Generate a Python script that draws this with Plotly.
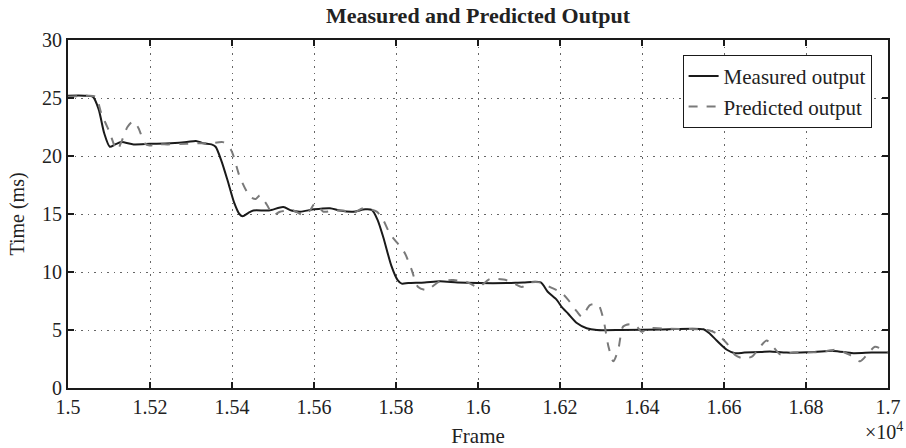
import plotly.graph_objects as go

# ---- data (frames, time in ms) ----
measured_frame = [15000, 15040, 15061, 15075, 15088, 15102, 15115, 15130, 15160, 15200,
                  15250, 15290, 15312, 15330, 15350, 15360, 15375, 15390, 15405, 15418,
                  15426, 15440, 15452, 15490, 15525, 15545, 15566, 15600, 15639, 15663,
                  15695, 15725, 15741, 15755, 15769, 15789, 15804, 15814, 15830, 15870,
                  15907, 15950, 16000, 16070, 16110, 16153, 16170, 16192, 16204, 16220,
                  16241, 16265, 16290, 16350, 16450, 16550, 16565, 16582, 16607, 16627,
                  16650, 16690, 16712, 16753, 16820, 16867, 16915, 16960, 17000]
measured_ms = [25.2, 25.2, 25.1, 24.0, 22.0, 20.8, 21.0, 21.2, 21.0, 21.05,
               21.1, 21.2, 21.3, 21.1, 21.0, 20.8, 19.5, 17.8, 16.0, 15.0,
               14.8, 15.1, 15.3, 15.3, 15.6, 15.3, 15.2, 15.4, 15.5, 15.3,
               15.2, 15.4, 15.35, 14.5, 13.0, 10.5, 9.3, 9.0, 9.05, 9.1,
               9.2, 9.1, 9.05, 9.05, 9.1, 9.1, 8.3, 7.6, 7.0, 6.4,
               5.6, 5.15, 5.0, 5.0, 5.05, 5.06, 4.7, 4.1, 3.3, 3.0,
               3.05, 3.1, 3.15, 3.05, 3.1, 3.2, 3.0, 3.05, 3.05]

predicted_frame = [15000, 15050, 15068, 15081, 15092, 15102, 15112, 15120, 15130, 15145,
                   15159, 15172, 15187, 15199, 15220, 15244, 15290, 15325, 15350, 15378,
                   15398, 15419, 15444, 15458, 15468, 15485, 15501, 15517, 15550, 15574,
                   15590, 15602, 15623, 15650, 15671, 15696, 15720, 15753, 15770, 15785,
                   15810, 15822, 15838, 15854, 15875, 15907, 15940, 15972, 16001, 16029,
                   16062, 16078, 16107, 16127, 16153, 16176, 16204, 16220, 16241, 16253,
                   16273, 16293, 16306, 16318, 16330, 16342, 16354, 16371, 16387, 16399,
                   16420, 16468, 16550, 16565, 16582, 16607, 16627, 16647, 16668, 16688,
                   16704, 16720, 16737, 16769, 16834, 16875, 16907, 16932, 16952, 16968,
                   16989, 17000]
predicted_ms = [25.1, 25.2, 25.1, 23.7, 22.8, 22.0, 21.0, 20.5, 21.2, 22.5,
                23.0, 22.4, 21.1, 20.9, 21.0, 21.0, 21.05, 21.1, 21.1, 21.2,
                20.5, 18.2, 16.5, 16.3, 16.6, 15.8, 14.9, 15.2, 15.3, 14.9,
                15.3, 15.9, 15.2, 15.3, 15.3, 15.1, 15.5, 15.2, 14.4, 13.3,
                12.2, 11.6, 10.2, 8.7, 8.45, 9.2, 9.3, 9.15, 8.7, 9.4,
                9.35, 9.2, 8.7, 9.1, 9.1, 8.7, 8.2, 7.6, 6.6, 6.15,
                7.15, 7.2, 5.9, 3.6, 2.3, 3.3, 5.3, 5.5, 5.3, 4.85,
                5.15, 5.1, 5.05, 4.95, 4.7, 3.85, 2.85, 2.55, 2.7, 3.55,
                4.1, 3.55, 2.9, 3.05, 3.1, 3.3, 2.85, 2.3, 3.0, 3.55,
                3.3, 3.1]

x_ticks = [1.5, 1.52, 1.54, 1.56, 1.58, 1.6, 1.62, 1.64, 1.66, 1.68, 1.7]
x_tick_labels = ["1.5", "1.52", "1.54", "1.56", "1.58", "1.6", "1.62", "1.64", "1.66", "1.68", "1.7"]
y_ticks = [0, 5, 10, 15, 20, 25, 30]

SCALE = 1e4
FONT = "Liberation Serif, Times New Roman, serif"

fig = go.Figure()
fig.add_trace(go.Scatter(
    x=[f / SCALE for f in measured_frame], y=measured_ms, mode="lines",
    name="Measured output", line=dict(color="#1a1a1a", width=2, shape="spline", smoothing=0.7)))
fig.add_trace(go.Scatter(
    x=[f / SCALE for f in predicted_frame], y=predicted_ms, mode="lines",
    name="Predicted output", line=dict(color="#7a7a7a", width=2, dash="dash", shape="spline", smoothing=0.7)))

axis_common = dict(
    showline=True, linecolor="#1a1a1a", linewidth=2, mirror="allticks",
    ticks="inside", ticklen=6, tickwidth=1.5, tickcolor="#1a1a1a",
    showgrid=True, gridcolor="#666666", gridwidth=1, griddash="1.5px,5px",
    zeroline=False, automargin=False,
    tickfont=dict(family=FONT, size=20, color="#222222"),
)

fig.update_layout(
    width=906, height=448,
    margin=dict(l=68, r=18, t=40, b=60, autoexpand=False),
    paper_bgcolor="white", plot_bgcolor="white",
    font=dict(family=FONT, size=20, color="#222222"),
    title=dict(text="<b>Measured and Predicted Output</b>", x=0.5, xref="paper", xanchor="center",
               y=1 - 15 / 448, yref="container", yanchor="middle",
               font=dict(family=FONT, size=22, color="#222222")),
    xaxis=dict(range=[1.5, 1.7], tickvals=x_ticks, ticktext=x_tick_labels,
               title=dict(text="Frame", standoff=16, font=dict(family=FONT, size=21)),
               **axis_common),
    yaxis=dict(range=[0, 30], tickvals=y_ticks,
               title=dict(text="Time (ms)", standoff=12, font=dict(family=FONT, size=20)),
               **axis_common),
    legend=dict(x=0.980, y=0.957, xanchor="right", yanchor="top",
                bgcolor="white", bordercolor="#1a1a1a", borderwidth=1,
                font=dict(family=FONT, size=21, color="#222222"),
                tracegroupgap=0, itemwidth=30),
    showlegend=True,
)

fig.add_annotation(text="×10<sup>4</sup>", xref="paper", yref="paper",
                   x=1 + 17 / 820, y=-(431 - 388) / 348, xanchor="right", yanchor="middle",
                   showarrow=False, font=dict(family=FONT, size=20, color="#222222"))

fig.write_html("out.html")
